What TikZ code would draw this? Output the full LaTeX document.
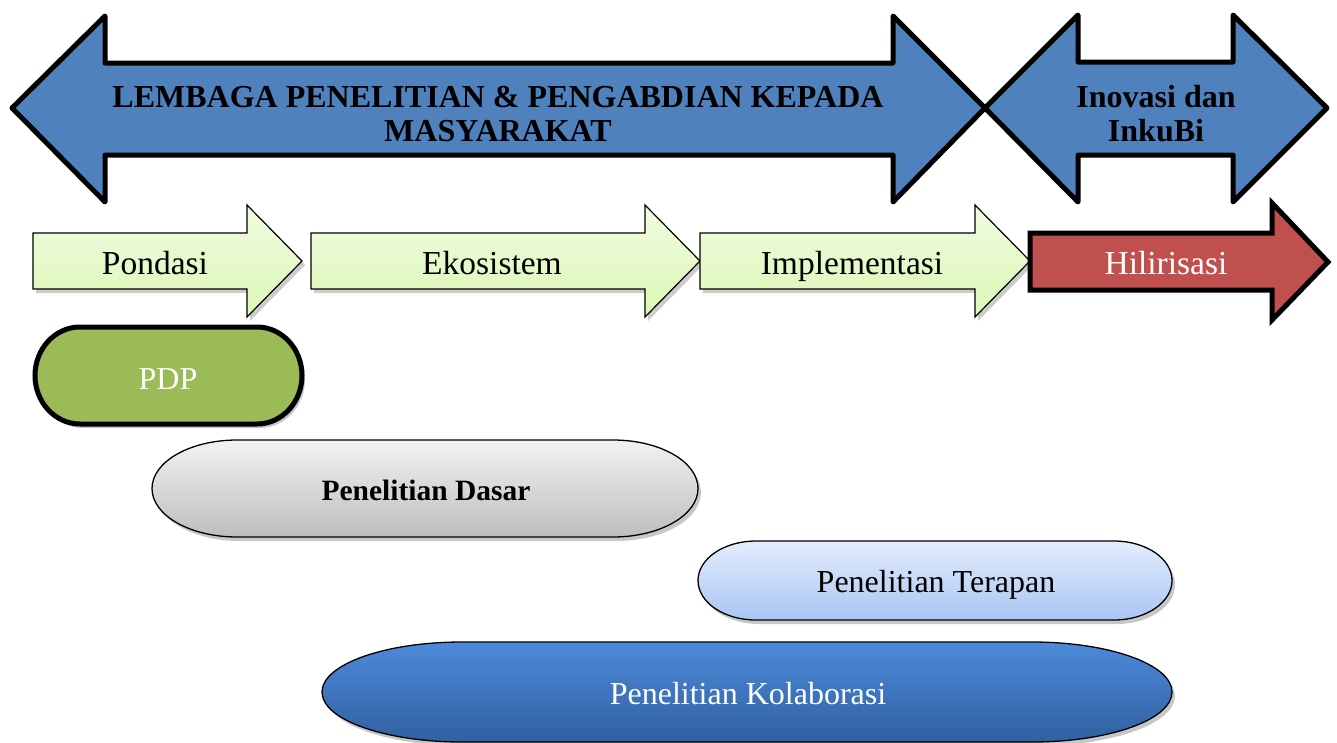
\documentclass[tikz,border=0pt]{standalone}
\usepackage{fontspec}
\setmainfont{Liberation Serif}
\definecolor{bigblue}{HTML}{4F81BD}
\definecolor{hiliri}{HTML}{C0504D}
\definecolor{pdpgreen}{HTML}{9BBB59}
\definecolor{lgtop}{HTML}{F0FCE2}
\definecolor{lgbot}{HTML}{DCF7B4}
\definecolor{dstop}{HTML}{F2F2F2}
\definecolor{dsbot}{HTML}{BEBEBE}
\definecolor{tptop}{HTML}{E4EDFC}
\definecolor{tpbot}{HTML}{A8C5F4}
\definecolor{kltop}{HTML}{4D8ADB}
\definecolor{klbot}{HTML}{30609F}
\newcommand{\mycapsule}[6]{%
  \fill[black,opacity=0.22] ([shift={(3,4)}]#1+#5,#3) -- ([shift={(3,4)}]#2-#5,#3)
    arc[start angle=-90,end angle=90,x radius=#5,y radius={(#4-#3)/2}]
    -- ([shift={(3,4)}]#1+#5,#4)
    arc[start angle=90,end angle=270,x radius=#5,y radius={(#4-#3)/2}] -- cycle;
  \draw[#6] (#1+#5,#3) -- (#2-#5,#3)
    arc[start angle=-90,end angle=90,x radius=#5,y radius={(#4-#3)/2}]
    -- (#1+#5,#4)
    arc[start angle=90,end angle=270,x radius=#5,y radius={(#4-#3)/2}] -- cycle;}
\begin{document}
\begin{tikzpicture}[x=1pt,y=-1pt,
  bigarrow/.style={draw=black,line width=5pt,line join=round,fill=bigblue},
  greenarrow/.style={draw=black,line width=1.2pt,line join=miter,top color=lgtop,bottom color=lgbot},
  shadowarrow/.style={fill=black,opacity=0.2},
  headtext/.style={font=\bfseries\fontsize{32}{34}\selectfont,align=center,text=black},
  steptext/.style={font=\fontsize{33.5}{36}\selectfont,text=black,anchor=base},
  captext/.style={font=\fontsize{32}{36}\selectfont,anchor=base}]
\useasboundingbox (0,0) rectangle (1337,742);
\fill[white] (0,0) rectangle (1337,742);
% big double arrows
\draw[bigarrow] (12,108) -- (105,16) -- (105,63) -- (893,63) -- (893,16) -- (985,108)
  -- (893,202) -- (893,155) -- (105,155) -- (105,202) -- cycle;
\draw[bigarrow] (985,108) -- (1078,15) -- (1078,62) -- (1233,62) -- (1233,15) -- (1327,108)
  -- (1233,202) -- (1233,155) -- (1078,155) -- (1078,202) -- cycle;
\node[headtext] (lembaga) at (498,114) {LEMBAGA PENELITIAN \& PENGABDIAN KEPADA\\MASYARAKAT};
\node[headtext] (inovasi) at (1156,114) {Inovasi dan\\InkuBi};
% green step arrows (shadows)
\begin{scope}[shift={(3,4)}]
\fill[shadowarrow] (33,233) -- (247,233) -- (247,205) -- (302,261) -- (247,317) -- (247,289) -- (33,289) -- cycle;
\fill[shadowarrow] (311,233) -- (645,233) -- (645,205) -- (700,261) -- (645,317) -- (645,289) -- (311,289) -- cycle;
\fill[shadowarrow] (700,233) -- (975,233) -- (975,205) -- (1030,261) -- (975,317) -- (975,289) -- (700,289) -- cycle;
\end{scope}
\draw[greenarrow] (33,233) -- (247,233) -- (247,205) -- (302,261) -- (247,317) -- (247,289) -- (33,289) -- cycle;
\draw[greenarrow] (311,233) -- (645,233) -- (645,205) -- (700,261) -- (645,317) -- (645,289) -- (311,289) -- cycle;
\draw[greenarrow] (700,233) -- (975,233) -- (975,205) -- (1030,261) -- (975,317) -- (975,289) -- (700,289) -- cycle;
\draw[draw=black,line width=5pt,line join=miter,fill=hiliri] (1030,233) -- (1272,233) -- (1272,203) -- (1328,262) -- (1272,320) -- (1272,290) -- (1030,290) -- cycle;
\node[steptext] (pondasi) at (155,274) {Pondasi};
\node[steptext] (ekosistem) at (492,274) {Ekosistem};
\node[steptext] (implementasi) at (852,274) {Implementasi};
\node[steptext,text=white] (hilirisasi) at (1166,274) {Hilirisasi};
% capsules
\mycapsule{35}{302}{327}{424}{45}{draw=black,line width=5pt,fill=pdpgreen}
\mycapsule{152}{698}{440}{537}{85}{draw=black,line width=1.3pt,top color=dstop,bottom color=dsbot}
\mycapsule{698}{1172}{541}{620}{58}{draw=black,line width=1.3pt,top color=tptop,bottom color=tpbot}
\mycapsule{322}{1172}{642}{742}{140}{draw=black,line width=1.3pt,top color=kltop,bottom color=klbot}
\node[captext,text=white] (pdp) at (168,389) {PDP};
\node[captext,font=\bfseries\fontsize{29.5}{34}\selectfont] (dasar) at (426,500) {Penelitian Dasar};
\node[captext] (terapan) at (936,592) {Penelitian Terapan};
\node[captext,text=white] (kolaborasi) at (748,704) {Penelitian Kolaborasi};
\end{tikzpicture}
\end{document}
